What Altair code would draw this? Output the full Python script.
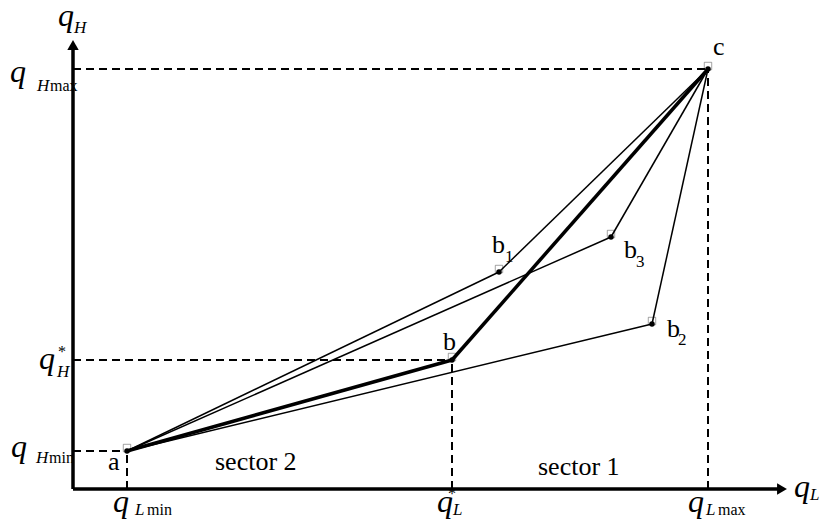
import altair as alt
import pandas as pd

# ---- data (units: plot coordinates, origin at axis corner) ----
point_names = ["a", "b", "b1", "b2", "b3", "c"]
point_qL = [54, 379, 426, 579, 538, 635]
point_qH = [38, 129, 217, 165, 252, 420]

thin_segments = [("a", "b1"), ("b1", "c"), ("a", "b3"), ("b3", "c"), ("a", "b2"), ("b2", "c")]
thick_segments = [("a", "b"), ("b", "c")]
guide_points = ["a", "b", "c"]

axis_x_end = 714
axis_y_end = 449

# big italic q symbols
q_x = [-15, -63, -34, -62, 40, 364, 615, 721]
q_y = [463, 407, 120, 32, -23, -23, -23, -8]
# italic subscripts
sub_text = ["H", "H", "H", "H", "L", "L", "L", "L"]
sub_x = [1, -36, -16, -37, 62, 380, 633, 737]
sub_y = [456, 398, 112, 26, -26, -26, -26, -11]
# upright subscripts
up_text = ["max", "min", "min", "max"]
up_x = [-23, -24, 74, 645]
up_y = [398, 26, -26, -26]
# stars
star_x = [-15, 375]
star_y = [132, -10]
# point / sector labels
lab_text = ["c", "b", "b", "b", "b", "a", "sector 2", "sector 1"]
lab_x = [640, 419, 551, 370, 594, 35, 142, 465]
lab_y = [434, 236, 231, 139, 152, 19, 19, 14]
# digit subscripts
dig_text = ["1", "3", "2"]
dig_x = [432, 563, 605]
dig_y = [227, 222, 144]

# ---- build tables ----
P = {n: (x, y) for n, x, y in zip(point_names, point_qL, point_qH)}
pts = pd.DataFrame({"name": point_names, "x": point_qL, "y": point_qH})


def seg_df(segs):
    return pd.DataFrame({
        "x": [P[a][0] for a, b in segs], "y": [P[a][1] for a, b in segs],
        "x2": [P[b][0] for a, b in segs], "y2": [P[b][1] for a, b in segs],
    })


thin_df = seg_df(thin_segments)
thick_df = seg_df(thick_segments)

guides = pd.DataFrame({
    "x": [0] * 3 + [P[n][0] for n in guide_points],
    "y": [P[n][1] for n in guide_points] + [0] * 3,
    "x2": [P[n][0] for n in guide_points] * 2,
    "y2": [P[n][1] for n in guide_points] * 2,
})

axes_df = pd.DataFrame({"x": [0, 0], "y": [0, 0], "x2": [axis_x_end - 6, 0], "y2": [0, axis_y_end - 6]})
arrow_r = pd.DataFrame({"x": [axis_x_end - 5], "y": [0]})
arrow_u = pd.DataFrame({"x": [0], "y": [axis_y_end - 5]})

xs = alt.Scale(domain=[-65, 747])
ys = alt.Scale(domain=[-30, 481])

FONT = "Liberation Serif"


def rules(df, **kw):
    return alt.Chart(df).mark_rule(**kw).encode(
        x=alt.X("x:Q", scale=xs, axis=None), y=alt.Y("y:Q", scale=ys, axis=None),
        x2="x2:Q", y2="y2:Q")


def points(df, **kw):
    return alt.Chart(df).mark_point(**kw).encode(
        x=alt.X("x:Q", scale=xs, axis=None), y=alt.Y("y:Q", scale=ys, axis=None))


def texts(xv, yv, tv, size, italic=False):
    df = pd.DataFrame({"x": xv, "y": yv, "t": tv})
    kw = dict(font=FONT, fontSize=size, align="left", baseline="alphabetic")
    if italic:
        kw["fontStyle"] = "italic"
    return alt.Chart(df).mark_text(**kw).encode(
        x=alt.X("x:Q", scale=xs, axis=None), y=alt.Y("y:Q", scale=ys, axis=None), text="t:N")


layers = [
    rules(guides, strokeDash=[8, 5], strokeWidth=2, color="black"),
    rules(thin_df, strokeWidth=1.5, color="black"),
    rules(thick_df, strokeWidth=3.5, color="black"),
    rules(axes_df, strokeWidth=3.5, color="black"),
    points(arrow_r, shape="triangle-right", size=130, filled=True, color="black", opacity=1),
    points(arrow_u, shape="triangle-up", size=130, filled=True, color="black", opacity=1),
    points(pts, shape="square", size=55, filled=False, color="black", strokeWidth=0.6, yOffset=-3, opacity=0.6),
    points(pts, shape="circle", size=30, filled=True, color="black", opacity=1),
    texts(q_x, q_y, ["q"] * len(q_x), 32, True),
    texts(sub_x, sub_y, sub_text, 17, True),
    texts(up_x, up_y, up_text, 16),
    texts(star_x, star_y, ["*"] * len(star_x), 16),
    texts(lab_x, lab_y, lab_text, 26),
    texts(dig_x, dig_y, dig_text, 17),
]

chart = alt.layer(*layers).properties(
    width=812, height=511, padding=0, autosize=alt.AutoSizeParams(type="none")
).configure_view(stroke=None).configure_text(font=FONT)

chart.save("out.html", embed_options={"renderer": "svg", "actions": False})
